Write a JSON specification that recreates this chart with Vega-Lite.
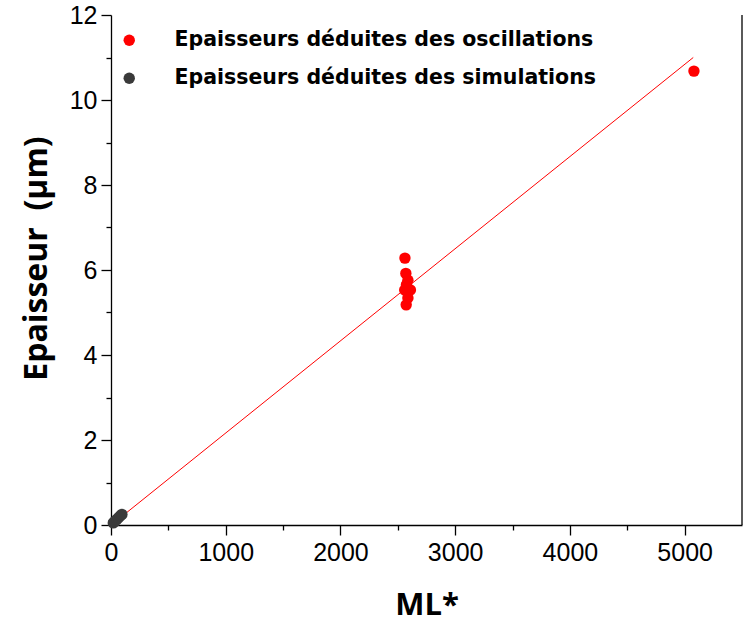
{
  "$schema": "https://vega.github.io/schema/vega-lite/v6.json",
  "width": 631,
  "height": 510,
  "autosize": {"type": "none"},
  "padding": {"left": 111, "top": 15, "right": 2, "bottom": 114},
  "config": {"view": {"stroke": null}, "font": "Liberation Sans"},
  "datasets": {
    "fit": [
      {"ml": 80, "ep": 0.17},
      {"ml": 5075, "ep": 11.0}
    ],
    "pts": [
      {"ml": 2562, "ep": 6.28, "serie": "Epaisseurs déduites des oscillations"},
      {"ml": 2570, "ep": 5.92, "serie": "Epaisseurs déduites des oscillations"},
      {"ml": 2588, "ep": 5.76, "serie": "Epaisseurs déduites des oscillations"},
      {"ml": 2575, "ep": 5.65, "serie": "Epaisseurs déduites des oscillations"},
      {"ml": 2560, "ep": 5.53, "serie": "Epaisseurs déduites des oscillations"},
      {"ml": 2610, "ep": 5.53, "serie": "Epaisseurs déduites des oscillations"},
      {"ml": 2588, "ep": 5.34, "serie": "Epaisseurs déduites des oscillations"},
      {"ml": 2573, "ep": 5.18, "serie": "Epaisseurs déduites des oscillations"},
      {"ml": 5081, "ep": 10.68, "serie": "Epaisseurs déduites des oscillations"},
      {"ml": 20, "ep": 0.05, "serie": "Epaisseurs déduites des simulations"},
      {"ml": 35, "ep": 0.09, "serie": "Epaisseurs déduites des simulations"},
      {"ml": 50, "ep": 0.13, "serie": "Epaisseurs déduites des simulations"},
      {"ml": 65, "ep": 0.17, "serie": "Epaisseurs déduites des simulations"},
      {"ml": 80, "ep": 0.21, "serie": "Epaisseurs déduites des simulations"},
      {"ml": 95, "ep": 0.25, "serie": "Epaisseurs déduites des simulations"}
    ]
  },
  "layer": [
    {
      "data": {"name": "fit"},
      "mark": {"type": "line", "color": "#ff0000", "strokeWidth": 1},
      "encoding": {
        "x": {
          "field": "ml", "type": "quantitative",
          "scale": {"domain": [0, 5500], "nice": false, "zero": false},
          "axis": {
            "title": "ML*",
            "values": [0, 500, 1000, 1500, 2000, 2500, 3000, 3500, 4000, 4500, 5000],
            "format": "d",
            "labelExpr": "datum.value % 1000 === 0 ? datum.label : ''",
            "grid": false,
            "domainColor": "#000000", "domainWidth": 1.3,
            "tickColor": "#000000", "tickWidth": 1.3,
            "tickSize": {"condition": {"test": "datum.value % 1000 === 0", "value": 10}, "value": 5},
            "labelFont": "Liberation Sans", "labelFontSize": 25, "labelColor": "#000000",
            "labelPadding": 5, "labelFlush": false,
            "titleFont": "Open Sans", "titleFontSize": 31, "titleFontWeight": "bold", "titleColor": "#000000",
            "titlePadding": 25
          }
        },
        "y": {
          "field": "ep", "type": "quantitative",
          "scale": {"domain": [0, 12], "nice": false},
          "axis": {
            "title": "Epaisseur\u00a0 (µm)",
            "values": [0, 1, 2, 3, 4, 5, 6, 7, 8, 9, 10, 11, 12],
            "labelExpr": "datum.value % 2 === 0 ? datum.label : ''",
            "grid": false,
            "domainColor": "#000000", "domainWidth": 1.3,
            "tickColor": "#000000", "tickWidth": 1.3,
            "tickSize": {"condition": {"test": "datum.value % 2 === 0", "value": 10}, "value": 5},
            "labelFont": "Liberation Sans", "labelFontSize": 25, "labelColor": "#000000",
            "labelPadding": 4, "labelFlush": false,
            "titleFont": "Open Sans", "titleFontSize": 32, "titleFontWeight": "bold", "titleColor": "#000000",
            "titlePadding": 16,
            "titleY": 243
          }
        }
      }
    },
    {
      "data": {"name": "pts"},
      "mark": {"type": "circle", "size": 130, "opacity": 1},
      "encoding": {
        "x": {"field": "ml", "type": "quantitative"},
        "y": {"field": "ep", "type": "quantitative"},
        "color": {
          "field": "serie", "type": "nominal",
          "scale": {
            "domain": ["Epaisseurs déduites des oscillations", "Epaisseurs déduites des simulations"],
            "range": ["#ff0000", "#3a3a3a"]
          },
          "legend": {
            "title": null,
            "orient": "none",
            "legendX": 8,
            "legendY": 15,
            "symbolType": "circle",
            "symbolSize": 130,
            "symbolStrokeWidth": 0,
            "symbolOpacity": 1,
            "labelFont": "DejaVu Sans",
            "labelFontWeight": "bold",
            "labelFontSize": 20.5,
            "labelColor": "#000000",
            "labelOffset": 35,
            "labelLimit": 0,
            "rowPadding": 17
          }
        }
      }
    },
    {
      "data": {"values": [{}]},
      "mark": {"type": "rule", "color": "#000000", "strokeWidth": 1.3},
      "encoding": {"x": {"datum": 5500}}
    }
  ]
}
